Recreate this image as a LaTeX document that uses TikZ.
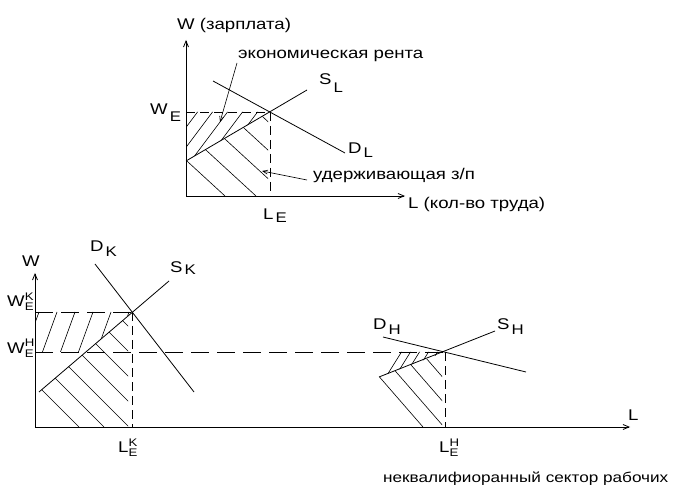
\documentclass[tikz,border=0pt]{standalone}
\usepackage{fontspec}
\setmainfont{Liberation Sans}[FakeStretch=1.2]
\usetikzlibrary{arrows.meta}
\newcommand{\labsize}{\fontsize{15.5}{18}\selectfont}
\newcommand{\subsize}{\fontsize{14}{16}\selectfont}
\newcommand{\tinysize}{\fontsize{11}{12}\selectfont}
\newcommand{\notesize}{\fontsize{14.3}{16}\selectfont}
\newcommand{\lsub}[3][5pt]{#2\hspace{2pt}\raisebox{-#1}{\subsize #3}}
\newcommand{\lsupsub}[3]{#1\rlap{\raisebox{6pt}{\tinysize #2}}\raisebox{-4pt}{\tinysize #3}}
\tikzstyle{axis} = [line width=.8pt, -{Straight Barb[length=6pt,width=5pt]}]
\tikzstyle{curve} = [line width=.8pt]
\tikzstyle{guide} = [line width=.8pt, dash pattern=on 9pt off 5pt]
\tikzstyle{longguide} = [line width=.8pt, dash pattern=on 18pt off 8pt]
\tikzstyle{hatch} = [line width=.6pt]
\tikzstyle{pointer} = [line width=.6pt, -{Straight Barb[length=5pt,width=4pt]}]

\begin{document}
\begin{tikzpicture}[
  x=1pt, y=-1pt,
  every node/.style={inner sep=0pt, anchor=base west, font=\labsize},
]
\useasboundingbox (0,0) rectangle (677,502);

% upper graph
\coordinate (O1) at (186,196);
\coordinate (W1) at (186,40);
\coordinate (X1) at (405,196);
\coordinate (E1) at (270,112);
\coordinate (wE1) at (186,112);
\coordinate (lE1) at (270,196);
\coordinate (s1a) at (186,161);
\coordinate (s1b) at (307,90);
\coordinate (d1a) at (213,81);
\coordinate (d1b) at (345,153);

\begin{scope}
  \clip (wE1) -- (E1) -- (s1a) -- cycle;
  \foreach \x in {154,169,...,274}
    \draw[hatch] (\x,170) -- ++(45,-60);
\end{scope}
\begin{scope}
  \clip (s1a) -- (E1) -- (lE1) -- (O1) -- cycle;
  \clip (0,0) rectangle (268,502);
  \foreach \x in {225,256,...,350}
    \draw[hatch] (\x,196) -- ++(-110,-101);
\end{scope}

\draw[axis] (O1) -- (W1);
\draw[axis] (O1) -- (X1);
\draw[guide] (wE1) -- (E1) -- (lE1);
\draw[curve] (s1a) -- (s1b);
\draw[curve] (d1a) -- (d1b);

\node (Wtop) at (177,30) {W (зарплата)};
\node (rent) at (238,59) {экономическая рента};
\node (SL) at (319,85) {\lsub[8pt]{S}{L}};
\node (DL) at (348,154) {\lsub[4pt]{D}{L}};
\node (WE) at (150,115) {\lsub[7pt]{W}{E}};
\node (LE) at (263,220) {\lsub[3pt]{L}{E}};
\node (retain) at (313,180) {удерживающая з/п};
\node (Ltop) at (408,209) {L (кол-во труда)};

\coordinate (rentpt) at (220,122);
\coordinate (retainpt) at (262,171);
\draw[pointer] ([xshift=-1pt,yshift=-4pt]rent.base west) -- (rentpt);
\draw[pointer] ([xshift=-6pt]retain.base west) -- (retainpt);

% lower graph
\coordinate (O2) at (35,427);
\coordinate (W2) at (35,273);
\coordinate (X2) at (630,427);
\coordinate (EK) at (132,312);
\coordinate (EH) at (445,352);
\coordinate (wK) at (35,312);
\coordinate (wH) at (35,352);
\coordinate (lK) at (132,427);
\coordinate (lH) at (445,427);
\coordinate (cK) at (85.5,352);
\coordinate (dKa) at (95,264);
\coordinate (dKb) at (194,392);
\coordinate (sKa) at (39,392);
\coordinate (sKb) at (169,281);
\coordinate (dHa) at (383,337);
\coordinate (dHb) at (526,372);
\coordinate (sHa) at (379,377);
\coordinate (sHb) at (495,331);

\begin{scope}
  \clip (wK) -- (EK) -- (cK) -- (wH) -- cycle;
  \foreach \x in {23,41,...,140}
    \draw[hatch] (\x,356) -- ++(16,-44);
\end{scope}
\begin{scope}
  \clip (sKa) -- (EK) -- (lK) -- (O2) -- cycle;
  \clip (0,0) rectangle (128,502);
  \foreach \x in {79,104,...,230}
    \draw[hatch] (\x,427) -- ++(-120,-120);
\end{scope}
\begin{scope}
  \clip (sHa) -- (395,352) -- (EH) -- cycle;
  \foreach \x in {375,384,...,450}
    \draw[hatch] (\x,380) -- ++(20,-32);
\end{scope}
\begin{scope}
  \clip (sHa) -- (EH) -- (lH) -- (421,427) -- cycle;
  \clip (0,0) rectangle (442,502);
  \foreach \x in {423,444,...,510}
    \draw[hatch] (\x,427) -- ++(-87,-100);
\end{scope}

\draw[axis] (O2) -- (W2);
\draw[axis] (O2) -- (X2);
\draw[longguide] (wK) -- (EK);
\draw[longguide] (wH) -- (EH);
\draw[guide] (EK) -- (lK);
\draw[guide] (EH) -- (lH);
\draw[curve] (dKa) -- (dKb);
\draw[curve] (sKa) -- (sKb);
\draw[curve] (dHa) -- (dHb);
\draw[curve] (sHa) -- (sHb);

\node (Wbot) at (22,267) {W};
\node (WEK) at (7,307) {\lsupsub{W}{K}{E}};
\node (WEH) at (7,353) {\lsupsub{W}{H}{E}};
\node (LEK) at (118,452) {\lsupsub{L}{K}{E}};
\node (LEH) at (439,452) {\lsupsub{L}{H}{E}};
\node (DK) at (90,252) {\lsub{D}{K}};
\node (SK) at (170,273) {\lsub[2pt]{S}{K}};
\node (DH) at (373,330) {\lsub{D}{H}};
\node (SH) at (497,330) {\lsub{S}{H}};
\node (Lbot) at (628,420) {L};
\node (note) at (383,482) {\notesize неквалифиоранный сектор рабочих};
\end{tikzpicture}
\end{document}
